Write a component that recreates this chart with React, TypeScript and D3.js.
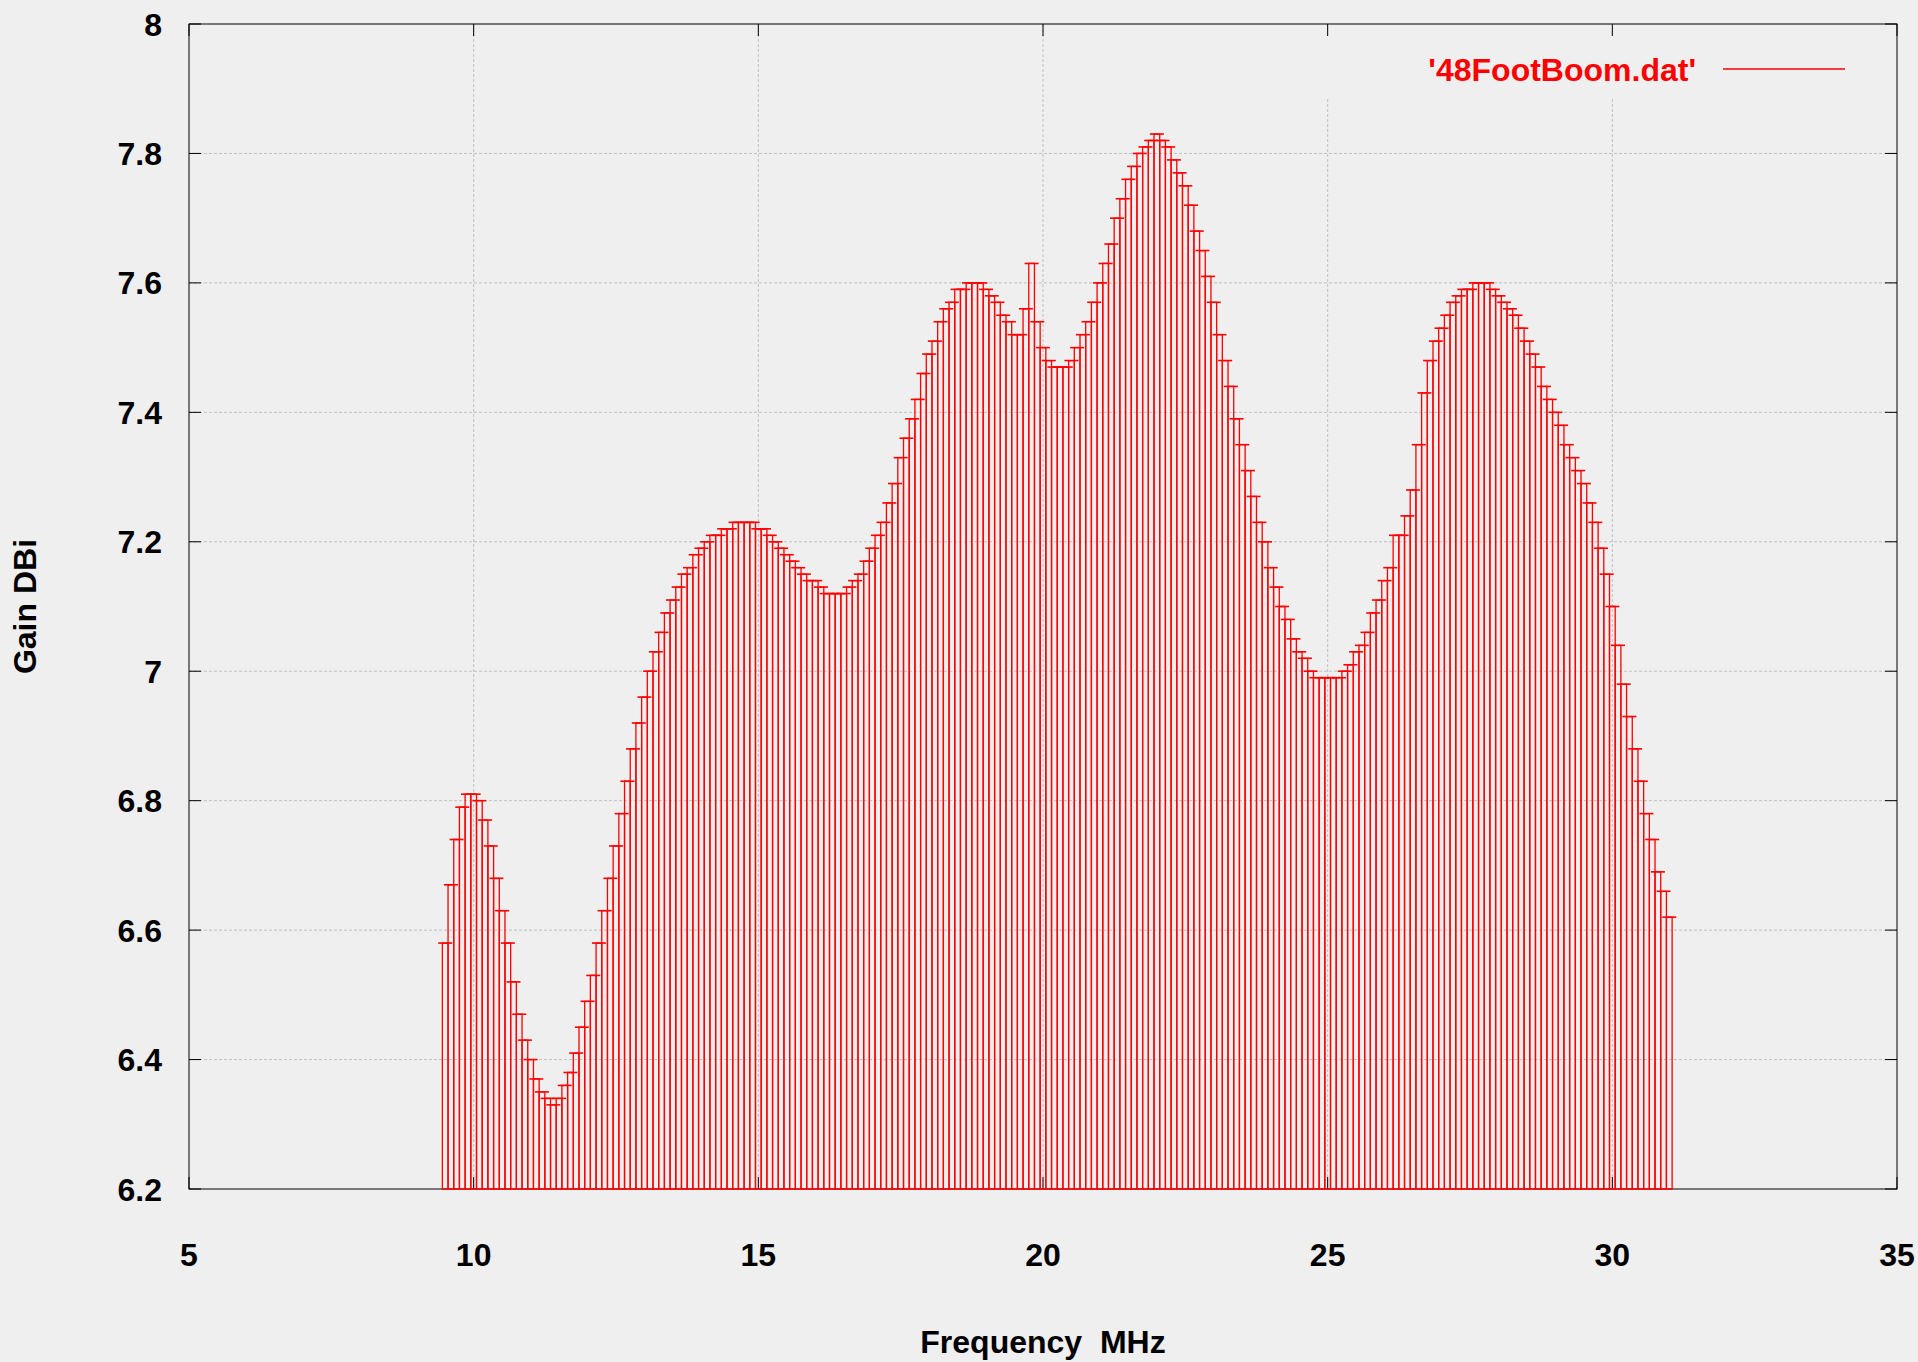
import { useEffect } from "react";
import { scaleLinear } from "d3";

// gain sweep of the 48 ft boom yagi, one reading every 0.1 MHz
const frequencies = [
  9.5, 9.6, 9.7, 9.8, 9.9, 10.0, 10.1, 10.2, 10.3, 10.4,
  10.5, 10.6, 10.7, 10.8, 10.9, 11.0, 11.1, 11.2, 11.3, 11.4,
  11.5, 11.6, 11.7, 11.8, 11.9, 12.0, 12.1, 12.2, 12.3, 12.4,
  12.5, 12.6, 12.7, 12.8, 12.9, 13.0, 13.1, 13.2, 13.3, 13.4,
  13.5, 13.6, 13.7, 13.8, 13.9, 14.0, 14.1, 14.2, 14.3, 14.4,
  14.5, 14.6, 14.7, 14.8, 14.9, 15.0, 15.1, 15.2, 15.3, 15.4,
  15.5, 15.6, 15.7, 15.8, 15.9, 16.0, 16.1, 16.2, 16.3, 16.4,
  16.5, 16.6, 16.7, 16.8, 16.9, 17.0, 17.1, 17.2, 17.3, 17.4,
  17.5, 17.6, 17.7, 17.8, 17.9, 18.0, 18.1, 18.2, 18.3, 18.4,
  18.5, 18.6, 18.7, 18.8, 18.9, 19.0, 19.1, 19.2, 19.3, 19.4,
  19.5, 19.6, 19.7, 19.8, 19.9, 20.0, 20.1, 20.2, 20.3, 20.4,
  20.5, 20.6, 20.7, 20.8, 20.9, 21.0, 21.1, 21.2, 21.3, 21.4,
  21.5, 21.6, 21.7, 21.8, 21.9, 22.0, 22.1, 22.2, 22.3, 22.4,
  22.5, 22.6, 22.7, 22.8, 22.9, 23.0, 23.1, 23.2, 23.3, 23.4,
  23.5, 23.6, 23.7, 23.8, 23.9, 24.0, 24.1, 24.2, 24.3, 24.4,
  24.5, 24.6, 24.7, 24.8, 24.9, 25.0, 25.1, 25.2, 25.3, 25.4,
  25.5, 25.6, 25.7, 25.8, 25.9, 26.0, 26.1, 26.2, 26.3, 26.4,
  26.5, 26.6, 26.7, 26.8, 26.9, 27.0, 27.1, 27.2, 27.3, 27.4,
  27.5, 27.6, 27.7, 27.8, 27.9, 28.0, 28.1, 28.2, 28.3, 28.4,
  28.5, 28.6, 28.7, 28.8, 28.9, 29.0, 29.1, 29.2, 29.3, 29.4,
  29.5, 29.6, 29.7, 29.8, 29.9, 30.0, 30.1, 30.2, 30.3, 30.4,
  30.5, 30.6, 30.7, 30.8, 30.9, 31.0,
];

const gain = [
  6.58, 6.67, 6.74, 6.79, 6.81, 6.81, 6.80, 6.77, 6.73, 6.68,
  6.63, 6.58, 6.52, 6.47, 6.43, 6.40, 6.37, 6.35, 6.34, 6.33,
  6.34, 6.36, 6.38, 6.41, 6.45, 6.49, 6.53, 6.58, 6.63, 6.68,
  6.73, 6.78, 6.83, 6.88, 6.92, 6.96, 7.00, 7.03, 7.06, 7.09,
  7.11, 7.13, 7.15, 7.16, 7.18, 7.19, 7.20, 7.21, 7.21, 7.22,
  7.22, 7.23, 7.23, 7.23, 7.23, 7.22, 7.22, 7.21, 7.20, 7.19,
  7.18, 7.17, 7.16, 7.15, 7.14, 7.14, 7.13, 7.12, 7.12, 7.12,
  7.12, 7.13, 7.14, 7.15, 7.17, 7.19, 7.21, 7.23, 7.26, 7.29,
  7.33, 7.36, 7.39, 7.42, 7.46, 7.49, 7.51, 7.54, 7.56, 7.57,
  7.59, 7.59, 7.60, 7.60, 7.60, 7.59, 7.58, 7.57, 7.55, 7.54,
  7.52, 7.52, 7.56, 7.63, 7.54, 7.50, 7.48, 7.47, 7.47, 7.47,
  7.48, 7.50, 7.52, 7.54, 7.57, 7.60, 7.63, 7.66, 7.70, 7.73,
  7.76, 7.78, 7.80, 7.81, 7.82, 7.83, 7.82, 7.81, 7.79, 7.77,
  7.75, 7.72, 7.68, 7.65, 7.61, 7.57, 7.52, 7.48, 7.44, 7.39,
  7.35, 7.31, 7.27, 7.23, 7.20, 7.16, 7.13, 7.10, 7.08, 7.05,
  7.03, 7.02, 7.00, 6.99, 6.99, 6.99, 6.99, 6.99, 7.00, 7.01,
  7.03, 7.04, 7.06, 7.09, 7.11, 7.14, 7.16, 7.21, 7.21, 7.24,
  7.28, 7.35, 7.43, 7.48, 7.51, 7.53, 7.55, 7.57, 7.58, 7.59,
  7.59, 7.60, 7.60, 7.60, 7.59, 7.58, 7.57, 7.56, 7.55, 7.53,
  7.51, 7.49, 7.47, 7.44, 7.42, 7.40, 7.38, 7.35, 7.33, 7.31,
  7.29, 7.26, 7.23, 7.19, 7.15, 7.10, 7.04, 6.98, 6.93, 6.88,
  6.83, 6.78, 6.74, 6.69, 6.66, 6.62,
];

const xTicks = [5, 10, 15, 20, 25, 30, 35];
const yTicks = [6.2, 6.4, 6.6, 6.8, 7, 7.2, 7.4, 7.6, 7.8, 8];
const seriesLabel = "'48FootBoom.dat'";
const xTitle = "Frequency  MHz";
const yTitle = "Gain DBi";

const WIDTH = 1918;
const HEIGHT = 1362;
const plot = { left: 189, right: 1897, top: 24, bottom: 1189 };
const RED = "#ff0000";
const BG = "#efefef";
const FONT = "'Liberation Sans', Arial, Helvetica, sans-serif";
const TICK = 12;
const CAP = 7; // half width of the errorbar cap, px
// the key box blanks the grid behind it
const keyArea = { left: 1300, bottom: 99 };

export default function App() {
  useEffect(() => {
    document.body.style.margin = "0";
    document.body.style.background = BG;
  }, []);

  const x = scaleLinear().domain([5, 35]).range([plot.left, plot.right]);
  const y = scaleLinear().domain([6.2, 8]).range([plot.bottom, plot.top]);

  // gnuplot style boxes: each box reaches half way to its neighbours
  const boxes = frequencies.map((f, i) => {
    const prev = i > 0 ? frequencies[i - 1] : f - (frequencies[1] - frequencies[0]);
    const next =
      i < frequencies.length - 1
        ? frequencies[i + 1]
        : f + (f - frequencies[i - 1]);
    const x0 = x((prev + f) / 2);
    const x1 = x((f + next) / 2);
    const top = y(gain[i]);
    return {
      key: f,
      d: `M${x0},${plot.bottom}V${top}H${x1}V${plot.bottom}Z`,
      cx: x(f),
      top,
    };
  });

  const fmt = (v: number) => String(+v.toFixed(1));

  return (
    <svg
      width={WIDTH}
      height={HEIGHT}
      viewBox={`0 0 ${WIDTH} ${HEIGHT}`}
      style={{ display: "block", background: BG }}
    >
      <rect x={0} y={0} width={WIDTH} height={HEIGHT} fill={BG} />

      <g stroke="#c0c0c0" strokeWidth={1} strokeDasharray="3 2">
        {yTicks
          .filter((t) => t > 6.2 && t < 8)
          .map((t) => (
            <line
              key={`gy-${t}`}
              x1={plot.left}
              x2={plot.right}
              y1={y(t)}
              y2={y(t)}
            />
          ))}
        {xTicks
          .filter((t) => t > 5 && t < 35)
          .map((t) => (
            <line
              key={`gx-${t}`}
              x1={x(t)}
              x2={x(t)}
              y1={x(t) > keyArea.left ? keyArea.bottom : plot.top}
              y2={plot.bottom}
            />
          ))}
      </g>

      <g stroke="#000" strokeWidth={1} fill="none">
        <rect
          x={plot.left}
          y={plot.top}
          width={plot.right - plot.left}
          height={plot.bottom - plot.top}
        />
        {yTicks.map((t) => (
          <g key={`ty-${t}`}>
            <line x1={plot.left} x2={plot.left + TICK} y1={y(t)} y2={y(t)} />
            <line x1={plot.right} x2={plot.right - TICK} y1={y(t)} y2={y(t)} />
          </g>
        ))}
        {xTicks.map((t) => (
          <g key={`tx-${t}`}>
            <line x1={x(t)} x2={x(t)} y1={plot.bottom} y2={plot.bottom - TICK} />
            <line x1={x(t)} x2={x(t)} y1={plot.top} y2={plot.top + TICK} />
          </g>
        ))}
      </g>

      <g stroke={RED} strokeWidth={1.3} fill="none">
        {boxes.map((b) => (
          <path key={`b-${b.key}`} d={b.d} />
        ))}
        {boxes.map((b) => (
          <line
            key={`c-${b.key}`}
            x1={b.cx - CAP}
            x2={b.cx + CAP}
            y1={b.top}
            y2={b.top}
            strokeWidth={1.6}
          />
        ))}
      </g>

      <g fontFamily={FONT} fontWeight="bold" fontSize={32} fill="#000">
        {yTicks.map((t) => (
          <text key={`ly-${t}`} x={162} y={y(t) + 11.5} textAnchor="end">
            {fmt(t)}
          </text>
        ))}
        {xTicks.map((t) => (
          <text key={`lx-${t}`} x={x(t)} y={1266} textAnchor="middle">
            {t}
          </text>
        ))}
        <text
          x={(plot.left + plot.right) / 2}
          y={1353}
          textAnchor="middle"
          style={{ whiteSpace: "pre" }}
        >
          {xTitle}
        </text>
        <text
          transform={`translate(36,${(plot.top + plot.bottom) / 2}) rotate(-90)`}
          textAnchor="middle"
        >
          {yTitle}
        </text>
      </g>

      <g>
        <text
          x={1696}
          y={81}
          textAnchor="end"
          fontFamily={FONT}
          fontWeight="bold"
          fontSize={32}
          fill={RED}
        >
          {seriesLabel}
        </text>
        <line x1={1723} x2={1845} y1={69} y2={69} stroke={RED} strokeWidth={1.3} />
      </g>
    </svg>
  );
}
